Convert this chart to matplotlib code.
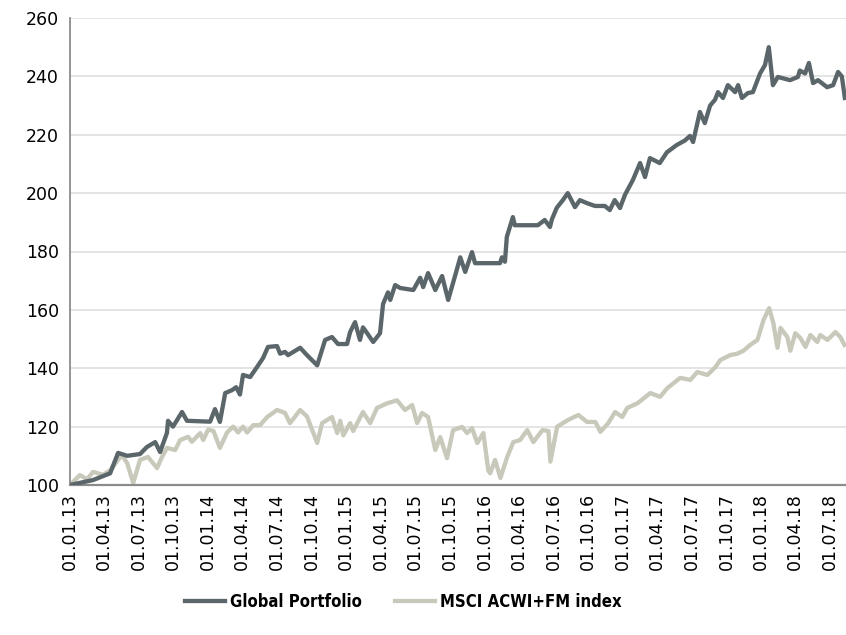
import matplotlib
matplotlib.use("Agg")
import matplotlib.pyplot as plt
import matplotlib.dates as mdates
import pandas as pd

gp_dates = ["2013-01-01","2013-03-03","2013-04-17","2013-05-08","2013-06-01","2013-07-05","2013-07-23",
            "2013-08-14","2013-08-27","2013-09-14","2013-09-17","2013-09-30","2013-10-24","2013-11-06",
            "2014-01-06","2014-01-19","2014-02-01","2014-02-15","2014-03-05","2014-03-16","2014-03-26",
            "2014-04-03","2014-04-22","2014-05-10","2014-05-26","2014-06-08","2014-07-02","2014-07-10",
            "2014-07-23","2014-07-31","2014-09-01","2014-09-19","2014-10-16","2014-11-06","2014-11-24",
            "2014-12-10","2015-01-03","2015-01-11","2015-01-24","2015-02-06","2015-02-14","2015-02-25",
            "2015-03-13","2015-03-31","2015-04-08","2015-04-21","2015-04-27","2015-05-10","2015-05-23",
            "2015-06-27","2015-07-15","2015-07-23","2015-08-05","2015-08-24","2015-09-11","2015-09-27",
            "2015-10-16","2015-10-29","2015-11-11","2015-11-29","2015-12-07","2016-02-11","2016-02-16",
            "2016-02-24","2016-02-29","2016-03-16","2016-03-21","2016-05-21","2016-06-08","2016-06-22",
            "2016-06-27","2016-07-10","2016-07-26","2016-08-08","2016-08-27","2016-09-09","2016-09-27",
            "2016-10-19","2016-11-14","2016-11-27","2016-12-10","2016-12-24","2017-01-06","2017-01-27",
            "2017-02-15","2017-02-28","2017-03-13","2017-04-08","2017-04-27","2017-05-23","2017-06-13",
            "2017-06-27","2017-07-05","2017-07-23","2017-08-05","2017-08-19","2017-09-01","2017-09-09",
            "2017-09-22","2017-10-05","2017-10-24","2017-11-01","2017-11-11","2017-11-27","2017-12-10",
            "2017-12-29","2018-01-11","2018-01-21","2018-02-01","2018-02-14","2018-03-18","2018-04-08",
            "2018-04-13","2018-04-27","2018-05-07","2018-05-18","2018-05-31","2018-06-24","2018-07-10",
            "2018-07-23","2018-08-02","2018-08-10"]
gp_values = [100,101.7,104,111,110,110.6,113,
             114.7,111.3,117.8,122,120,125,122,
             121.7,126,121.6,131.5,132.5,133.5,131,
             137.7,137,140.4,143.5,147.3,147.6,145,
             145.6,144.5,147,144.5,141,149.7,150.7,
             148.3,148.3,152.4,155.8,149.7,154,152,
             149,152,162,166,163.4,168.5,167.5,
             166.8,171,167.8,172.6,166.8,171.6,163.4,
             172,178,173,179.8,176,176,178,
             176.5,185,191.8,189,189,190.8,188.4,
             191,195,197.6,200,195.2,197.6,196.6,
             195.6,195.6,194.2,197.6,194.9,199.4,204.5,
             210.3,205.5,212,210.3,214,216.5,218,
             219.6,217.5,227.8,224,230,232,234.6,
             232.6,237,234.6,237,232.6,234.3,234.6,
             241,243.9,250,237,239.8,238.7,239.8,
             242,241,244.6,237.7,238.7,236.3,237,
             241.5,240,232.6]

msci_dates = ["2013-01-01","2013-01-27","2013-02-15","2013-03-03","2013-03-29","2013-04-17","2013-05-18",
              "2013-06-01","2013-06-17","2013-07-05","2013-07-26","2013-08-19","2013-09-01","2013-09-14",
              "2013-10-06","2013-10-19","2013-11-09","2013-11-19","2013-12-11","2013-12-19","2014-01-01",
              "2014-01-15","2014-02-01","2014-02-20","2014-03-08","2014-03-21","2014-04-03","2014-04-14",
              "2014-04-30","2014-05-18","2014-06-06","2014-07-02","2014-07-23","2014-08-05","2014-09-01",
              "2014-09-19","2014-10-03","2014-10-16","2014-10-29","2014-11-24","2014-12-08","2014-12-16",
              "2014-12-24","2015-01-11","2015-01-19","2015-02-14","2015-03-05","2015-03-23","2015-04-19",
              "2015-05-15","2015-06-05","2015-06-24","2015-07-07","2015-07-20","2015-08-05","2015-08-24",
              "2015-09-06","2015-09-24","2015-10-10","2015-11-03","2015-11-16","2015-11-29","2015-12-13",
              "2015-12-29","2016-01-11","2016-01-16","2016-01-29","2016-02-12","2016-03-01","2016-03-17",
              "2016-04-04","2016-04-23","2016-05-09","2016-06-02","2016-06-18","2016-06-23","2016-07-11",
              "2016-08-09","2016-09-05","2016-09-28","2016-10-20","2016-11-02","2016-11-23","2016-12-11",
              "2016-12-30","2017-01-12","2017-02-08","2017-03-14","2017-04-09","2017-04-28","2017-06-01",
              "2017-06-28","2017-07-16","2017-08-12","2017-09-02","2017-09-15","2017-10-11","2017-10-30",
              "2017-11-15","2017-12-03","2017-12-22","2018-01-07","2018-01-22","2018-02-02","2018-02-13",
              "2018-02-21","2018-03-11","2018-03-19","2018-04-01","2018-04-14","2018-04-28","2018-05-11",
              "2018-05-29","2018-06-06","2018-06-25","2018-07-16","2018-07-29","2018-08-09"]
msci_values = [100,103.4,102,104.5,103.5,105,110.3,
               107.5,100.7,108.6,109.6,105.8,109.6,112.7,
               112,115.4,116.5,114.8,117.8,115.4,119,
               118.5,112.7,118,120,118,120,118,
               120.5,120.5,123.3,125.7,124.7,121.2,125.7,
               123.5,118.8,114.4,121.2,123.3,117.8,122,
               117,121.2,118.5,125,121.2,126.4,128,
               129,125.7,127.4,121.2,124.7,123.3,112,
               116.4,109.2,118.8,119.9,117.8,119.5,114.4,
               117.8,105,104,108.6,102.4,109.6,114.7,
               115.4,118.8,114.7,118.8,118.5,108,120,
               122.3,124,121.6,121.6,118.2,121.2,125,
               123.3,126.4,128,131.5,130.2,133.2,136.7,
               136,138.7,137.7,140.4,142.8,144.5,145,
               146,148,149.7,156.5,160.6,155.5,147,
               153.8,150.7,146,152,150.4,147.3,151.4,
               149,151.4,149.7,152.4,150.7,148]

series_names = ["Global Portfolio", "MSCI ACWI+FM index"]
y_ticks = [100, 120, 140, 160, 180, 200, 220, 240, 260]
x_start, x_end = "2013-01-01", "2018-08-13"

plt.rcParams['font.family'] = ['DejaVu Sans']

fig = plt.figure(figsize=(8.46, 6.35), dpi=100)
ax = fig.add_axes([70/846, 1-485/635, 1-70/846, (485-18)/635])

ax.plot(pd.to_datetime(gp_dates), gp_values, color="#5b666b", lw=3.1,
        solid_joinstyle="round", label=series_names[0], zorder=3)
ax.plot(pd.to_datetime(msci_dates), msci_values, color="#c9c9bb", lw=3.1,
        solid_joinstyle="round", label=series_names[1], zorder=2)

ax.set_xlim(pd.Timestamp(x_start), pd.Timestamp(x_end))
ax.set_ylim(y_ticks[0], y_ticks[-1])
ax.set_yticks(y_ticks)
ax.yaxis.grid(True, color="#dcdcdc", lw=1.1)
ax.set_axisbelow(True)

ax.xaxis.set_major_locator(mdates.MonthLocator(bymonth=[1, 4, 7, 10]))
ax.xaxis.set_major_formatter(mdates.DateFormatter("%d.%m.%y"))
for lab in ax.get_xticklabels():
    lab.set_rotation(90)

ax.tick_params(axis="both", length=0, labelsize=12.5, colors="black")
ax.tick_params(axis="x", pad=6)
ax.tick_params(axis="y", pad=8)

for s in ["top", "right"]:
    ax.spines[s].set_visible(False)
ax.spines["left"].set_color("#8c8c8c")
ax.spines["left"].set_linewidth(1.3)
ax.spines["bottom"].set_color("#8c8c8c")
ax.spines["bottom"].set_linewidth(1.6)

leg = fig.legend(loc="center left", bbox_to_anchor=(170/846, 1-602/635), ncol=2,
                 frameon=False, handlelength=2.4, handletextpad=0.3, columnspacing=2.0,
                 prop={"family": "DejaVu Sans", "stretch": "condensed",
                       "weight": "bold", "size": 12})

fig.savefig("out.png", dpi=100)
